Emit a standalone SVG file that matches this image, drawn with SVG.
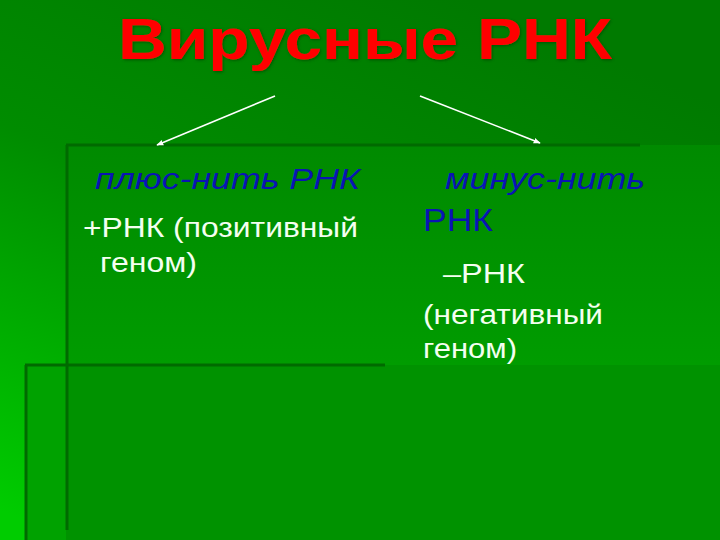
<svg xmlns="http://www.w3.org/2000/svg" width="720" height="540" viewBox="0 0 720 540">
  <defs>
    <linearGradient id="bg" x1="0.65" y1="0" x2="0.1" y2="1">
      <stop offset="0" stop-color="#007a00"/>
      <stop offset="0.45" stop-color="#008c00"/>
      <stop offset="1" stop-color="#00cc00"/>
    </linearGradient>
    <linearGradient id="panel" x1="0" y1="0" x2="0" y2="1">
      <stop offset="0" stop-color="#008a00"/>
      <stop offset="1" stop-color="#009c00"/>
    </linearGradient>
    <marker id="ah" viewBox="0 0 10 10" refX="9" refY="5" markerWidth="7" markerHeight="7" orient="auto-start-reverse" markerUnits="userSpaceOnUse">
      <path d="M0,1 L10,5 L0,9 Z" fill="#ffffff"/>
    </marker>
    <filter id="sh" x="-5%" y="-20%" width="110%" height="140%">
      <feGaussianBlur in="SourceAlpha" stdDeviation="1.5"/>
      <feOffset dx="1" dy="1" result="b"/>
      <feFlood flood-color="#004000" flood-opacity="0.7"/>
      <feComposite in2="b" operator="in"/>
      <feMerge><feMergeNode/><feMergeNode in="SourceGraphic"/></feMerge>
    </filter>
  </defs>
  <style>
    .title { font-family: "Liberation Sans", Arial, sans-serif; font-weight: bold; font-size: 58px; fill: #ff0000; }
    .head { font-family: "Liberation Sans", Arial, sans-serif; font-style: italic; font-size: 30px; fill: #0a14b4; }
    .headn { font-family: "Liberation Sans", Arial, sans-serif; font-size: 31px; fill: #0a14b4; }
    .body { font-family: "Liberation Sans", Arial, sans-serif; font-size: 28px; fill: #f4fff0; }
    .rule { stroke: #006a00; stroke-width: 3; fill: none; }
    .conn { stroke: #ffffff; stroke-width: 1.6; fill: none; marker-end: url(#ah); }
  </style>

  <!-- background -->
  <rect x="0" y="0" width="720" height="540" fill="url(#bg)"/>
  <rect x="25" y="365" width="695" height="175" fill="#00a200"/>
  <rect x="66" y="145" width="654" height="220" fill="url(#panel)"/>
  <rect x="66" y="365" width="654" height="175" fill="#009200"/>
  <path class="rule" d="M66,145 H640"/>
  <path class="rule" d="M67,145 V530"/>
  <path class="rule" d="M25,365 H385"/>
  <path class="rule" d="M26,365 V540"/>

  <g id="title">
    <text class="title" x="118" y="59" textLength="494" lengthAdjust="spacingAndGlyphs" filter="url(#sh)">Вирусные РНК</text>
  </g>

  <g id="connectors">
    <line class="conn" x1="275" y1="96" x2="157" y2="145"/>
    <line class="conn" x1="420" y1="96" x2="540" y2="143"/>
  </g>

  <g id="plus">
    <text class="head" x="95" y="189" textLength="265" lengthAdjust="spacingAndGlyphs">плюс-нить РНК</text>
    <text class="body" x="83" y="237" textLength="275" lengthAdjust="spacingAndGlyphs">+РНК (позитивный</text>
    <text class="body" x="100" y="272" textLength="97" lengthAdjust="spacingAndGlyphs">геном)</text>
  </g>

  <g id="minus">
    <text class="head" x="445" y="189" textLength="200" lengthAdjust="spacingAndGlyphs">минус-нить</text>
    <text class="headn" x="423" y="231" textLength="70" lengthAdjust="spacingAndGlyphs">РНК</text>
    <text class="body" x="443" y="283" textLength="82" lengthAdjust="spacingAndGlyphs">–РНК</text>
    <text class="body" x="423" y="324" textLength="180" lengthAdjust="spacingAndGlyphs">(негативный</text>
    <text class="body" x="423" y="358" textLength="94" lengthAdjust="spacingAndGlyphs">геном)</text>
  </g>
</svg>
